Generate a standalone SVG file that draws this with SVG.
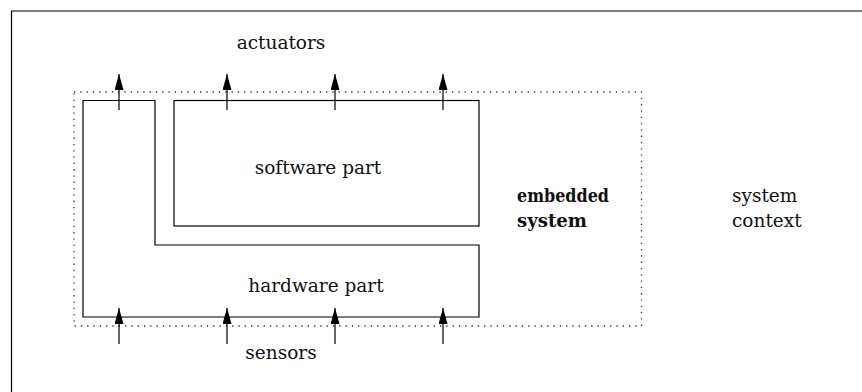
<svg xmlns="http://www.w3.org/2000/svg" width="862" height="392" viewBox="0 0 862 392">
<defs>
<style>
text{font-family:"DejaVu Serif","Liberation Serif",serif;font-size:18.5px;fill:#111}
.b{font-weight:bold}
.ln{fill:none;stroke:#000;stroke-width:1.2}
.dot{fill:none;stroke:#333;stroke-width:1.3;stroke-dasharray:1.3 5}
.arr{stroke:#000;stroke-width:1.2;marker-end:url(#ah)}
</style>
<marker id="ah" markerUnits="userSpaceOnUse" markerWidth="18" markerHeight="10" refX="16" refY="4.5" orient="auto">
<path d="M0,0 L16,4.5 L0,9 Z" fill="#000"/>
</marker>
</defs>
<rect width="862" height="392" fill="#fff"/>
<path id="frame" class="ln" d="M11.5,392 V11 H862"/>
<g id="embedded-system">
<rect class="dot" x="74" y="92" width="567.5" height="234"/>
<text class="b" x="517" y="202" textLength="92" lengthAdjust="spacingAndGlyphs">embedded</text>
<text class="b" x="517" y="227" textLength="70" lengthAdjust="spacingAndGlyphs">system</text>
</g>
<g id="software-part">
<rect class="ln" x="174" y="100.5" width="305" height="125.5"/>
<text x="318" y="174" text-anchor="middle">software part</text>
</g>
<g id="hardware-part">
<path class="ln" d="M83,100.5 H155 V245 H479 V317 H83 Z"/>
<text x="316" y="292" text-anchor="middle">hardware part</text>
</g>
<g id="actuators"><text x="281" y="49" text-anchor="middle">actuators</text></g>
<g id="sensors"><text x="281" y="359" text-anchor="middle">sensors</text></g>
<g id="system-context">
<text x="732" y="202">system</text>
<text x="732" y="227">context</text>
</g>
<g id="connectors">
<line class="arr" x1="119" y1="110" x2="119" y2="74"/>
<line class="arr" x1="227" y1="110" x2="227" y2="74"/>
<line class="arr" x1="335" y1="110" x2="335" y2="74"/>
<line class="arr" x1="443" y1="110" x2="443" y2="74"/>
<line class="arr" x1="119" y1="344" x2="119" y2="308"/>
<line class="arr" x1="227" y1="344" x2="227" y2="308"/>
<line class="arr" x1="335" y1="344" x2="335" y2="308"/>
<line class="arr" x1="443" y1="344" x2="443" y2="308"/>
</g>
</svg>
